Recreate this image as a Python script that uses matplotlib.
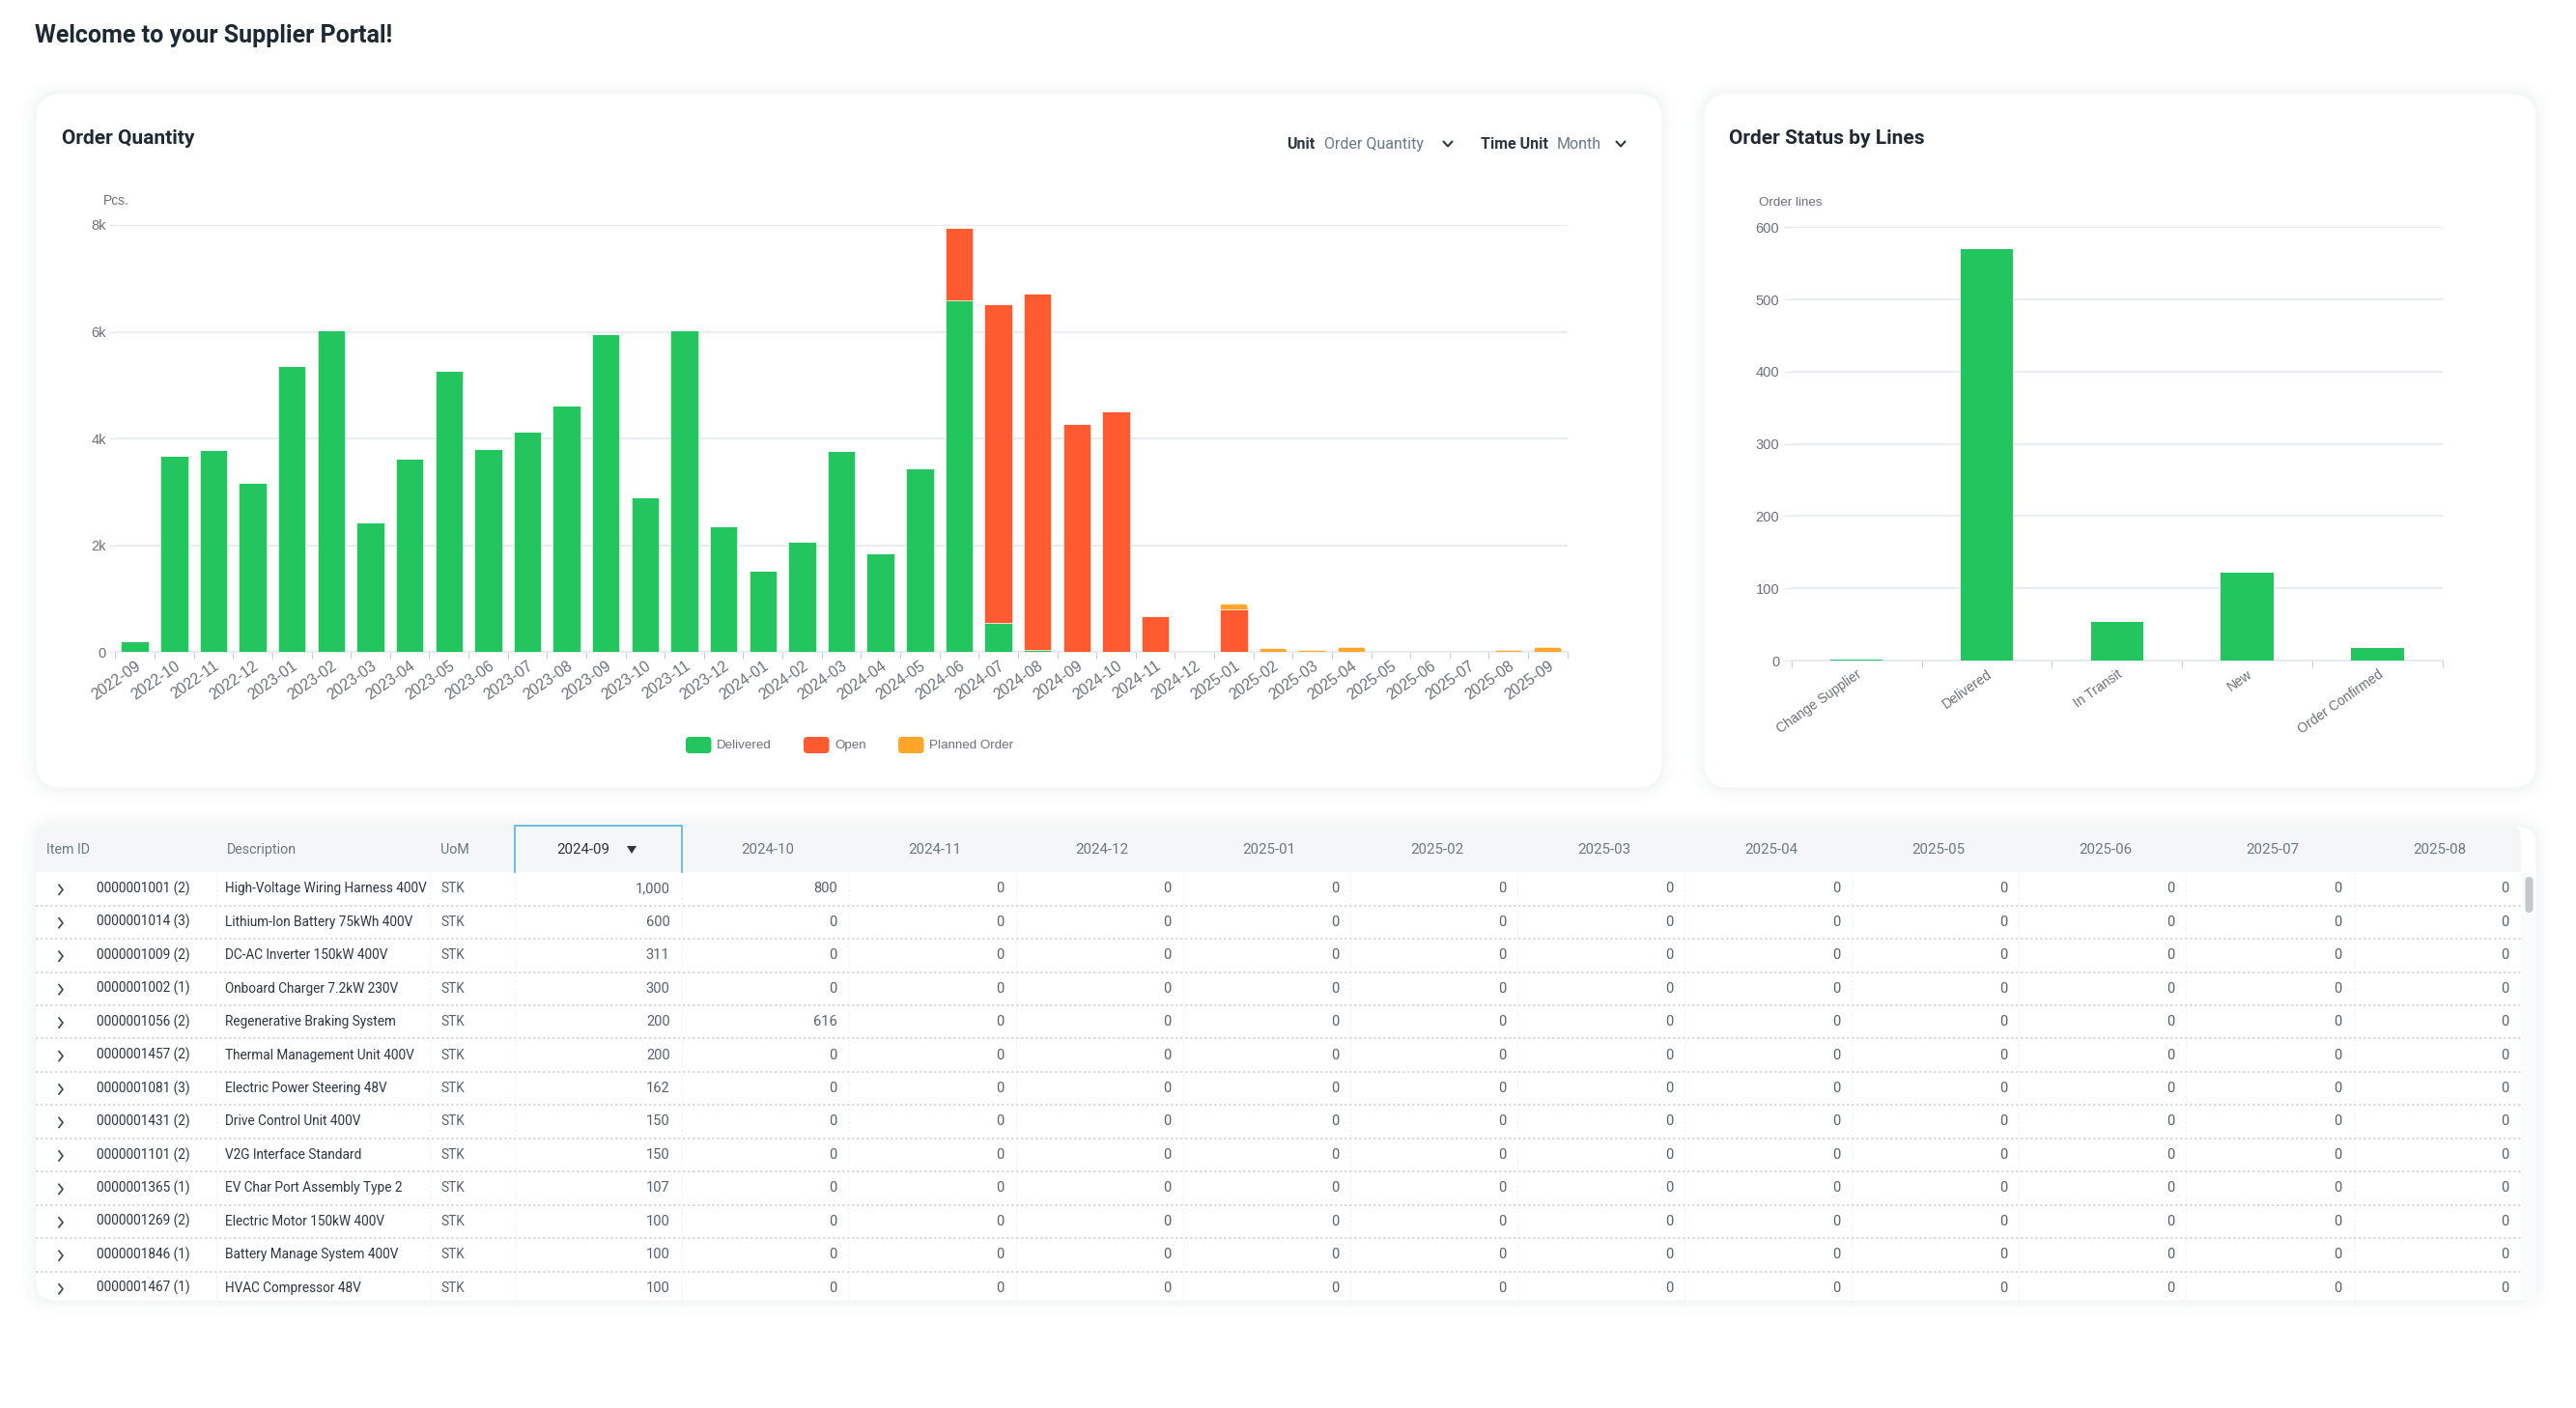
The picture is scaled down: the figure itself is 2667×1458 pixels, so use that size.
"""
plot.py
-------
Supplier portal dashboard: two bar chart cards above the order table.
"""

import matplotlib
matplotlib.use("Agg")
import matplotlib.pyplot as plt
import numpy as np
from matplotlib.lines import Line2D
from matplotlib.patches import FancyBboxPatch, Polygon, Rectangle

# ── data ──────────────────────────────────────────────────────────────────────
MONTHS = [
    "2022-09", "2022-10", "2022-11", "2022-12", "2023-01", "2023-02", "2023-03",
    "2023-04", "2023-05", "2023-06", "2023-07", "2023-08", "2023-09", "2023-10",
    "2023-11", "2023-12", "2024-01", "2024-02", "2024-03", "2024-04", "2024-05",
    "2024-06", "2024-07", "2024-08", "2024-09", "2024-10", "2024-11", "2024-12",
    "2025-01", "2025-02", "2025-03", "2025-04", "2025-05", "2025-06", "2025-07",
    "2025-08", "2025-09",
]
DELIVERED = [200, 3670, 3790, 3170, 5360, 6020, 2420, 3620, 5270, 3800, 4130, 4620,
             5960, 2900, 6020, 2350, 1520, 2070, 3760, 1850, 3430, 6590, 550, 40,
             0, 0, 0, 0, 0, 0, 0, 0, 0, 0, 0, 0, 0]
OPEN = [0, 0, 0, 0, 0, 0, 0, 0, 0, 0, 0, 0, 0, 0, 0, 0, 0, 0, 0, 0, 0,
        1350, 5970, 6670, 4270, 4500, 670, 0, 790, 0, 0, 0, 0, 0, 0, 0, 0]
PLANNED = [0, 0, 0, 0, 0, 0, 0, 0, 0, 0, 0, 0, 0, 0, 0, 0, 0, 0, 0, 0, 0,
           0, 0, 0, 0, 0, 0, 0, 110, 65, 40, 90, 0, 0, 0, 40, 90]
QTY_TICKS = [0, 2000, 4000, 6000, 8000]
QTY_TICK_LABELS = ["0", "2k", "4k", "6k", "8k"]

STATUSES = ["Change Supplier", "Delivered", "In Transit", "New", "Order Confirmed"]
STATUS_LINES = [1.5, 570, 54, 122, 18]
LINE_TICKS = [0, 100, 200, 300, 400, 500, 600]

ITEM_IDS = [
    "0000001001 (2)", "0000001014 (3)", "0000001009 (2)", "0000001002 (1)",
    "0000001056 (2)", "0000001457 (2)", "0000001081 (3)", "0000001431 (2)",
    "0000001101 (2)", "0000001365 (1)", "0000001269 (2)", "0000001846 (1)",
    "0000001467 (1)",
]
DESCRIPTIONS = [
    "High-Voltage Wiring Harness 400V", "Lithium-Ion Battery 75kWh 400V",
    "DC-AC Inverter 150kW 400V", "Onboard Charger 7.2kW 230V",
    "Regenerative Braking System", "Thermal Management Unit 400V",
    "Electric Power Steering 48V", "Drive Control Unit 400V",
    "V2G Interface Standard", "EV Char Port Assembly Type 2",
    "Electric Motor 150kW 400V", "Battery Manage System 400V",
    "HVAC Compressor 48V",
]
QTY_2024_09 = ["1,000", "600", "311", "300", "200", "200", "162", "150", "150",
               "107", "100", "100", "100"]
QTY_2024_10 = ["800", "0", "0", "0", "616", "0", "0", "0", "0", "0", "0", "0", "0"]
LATER_MONTHS = ["2024-11", "2024-12", "2025-01", "2025-02", "2025-03", "2025-04",
                "2025-05", "2025-06", "2025-07", "2025-08"]
LATER_QTY = "0"   # every later month reads 0 in every row

# ── style ─────────────────────────────────────────────────────────────────────
W, H = 2667, 1458
DPI = 100
GREEN, RED, ORANGE = "#22C55E", "#FF5A30", "#FFA62B"
GRID = "#E6E9F2"
AXIS_TEXT = "#6E7079"
TITLE_COL = "#1F2933"
SLATE = "#6B7885"
BODY = "#2E3640"
NUM = "#59626C"
CHART_FONT = "Liberation Sans"
UI_FONT = "Roboto"


def card(bg, x0, y0, x1, y1, radius=26):
    """Rounded white card with a very soft shadow, in pixel coordinates."""
    for grow, alpha in [(14, 0.10), (9, 0.14), (5, 0.18), (2, 0.25)]:
        bg.add_patch(FancyBboxPatch((x0 - grow, y0 - grow), x1 - x0 + 2 * grow,
                                    y1 - y0 + 2 * grow,
                                    boxstyle=f"round,pad=0,rounding_size={radius + grow}",
                                    fc="#EEF1F5", ec="none", alpha=alpha, zorder=1))
    bg.add_patch(FancyBboxPatch((x0, y0), x1 - x0, y1 - y0,
                                boxstyle=f"round,pad=0,rounding_size={radius}",
                                fc="white", ec="#F6F7F9", lw=1, zorder=2))


def chart_axes(fig, x0, y_top, x1, y_base, cat_size=11.3):
    ax = fig.add_axes([x0 / W, 1 - y_base / H, (x1 - x0) / W, (y_base - y_top) / H],
                      facecolor="none", zorder=5)
    ax.spines[["top", "right", "left"]].set_visible(False)
    ax.spines["bottom"].set_color(GRID)
    ax.spines["bottom"].set_linewidth(1.2)
    ax.yaxis.grid(True, color=GRID, linewidth=1.2)
    ax.set_axisbelow(True)
    ax.tick_params(axis="y", length=4, width=1, color=GRID, labelsize=10.5,
                   labelcolor=AXIS_TEXT, pad=3)
    ax.tick_params(axis="x", which="major", length=5, width=0.8, color="#C9CCD3",
                   labelbottom=False)
    ax.tick_params(axis="x", which="minor", length=0, pad=5, labelsize=cat_size,
                   labelcolor=AXIS_TEXT)
    return ax


def category_ticks(ax, labels):
    """Ticks on the category edges, labels in the middle of each category."""
    n = len(labels)
    ax.set_xlim(0, n)
    ax.set_xticks(np.arange(n + 1))
    ax.set_xticks(np.arange(n) + 0.5, labels, minor=True)
    for t in ax.get_xticklabels(minor=True):
        t.set(rotation=35, ha="right", va="top", rotation_mode="anchor",
              family=CHART_FONT)
    for t in ax.get_yticklabels():
        t.set_family(CHART_FONT)


def round_tops(ax, bars, radius=0.1):
    """Clip bars to a box with rounded upper corners (radius in x units)."""
    x0, x1 = ax.get_xlim()
    y0, y1 = ax.get_ylim()
    box = ax.get_window_extent()
    aspect = ((y1 - y0) / box.height) / ((x1 - x0) / box.width)
    for b in bars:
        if b.get_height() <= 0:
            continue
        extra = 400 * (y1 - y0) / 8000
        clip = FancyBboxPatch((b.get_x(), b.get_y() - extra), b.get_width(),
                              b.get_height() + extra,
                              boxstyle=f"round,pad=0,rounding_size={radius}",
                              mutation_aspect=aspect, transform=ax.transData)
        b.set_clip_path(clip)


def draw_order_quantity(fig):
    ax = chart_axes(fig, 119.4, 233, 1622.7, 675)
    x = np.arange(len(MONTHS)) + 0.5
    delivered, open_q, planned = map(np.array, (DELIVERED, OPEN, PLANNED))
    common = dict(width=0.7, edgecolor="#FFFFFF", linewidth=0.4, zorder=3)
    ax.bar(x, delivered, color=GREEN, **common)
    ax.bar(x, open_q, bottom=delivered, color=RED, **common)
    top = ax.bar(x, planned, bottom=delivered + open_q, color=ORANGE, **common)
    ax.set_ylim(0, 8000)
    ax.set_yticks(QTY_TICKS, QTY_TICK_LABELS)
    category_ticks(ax, MONTHS)
    round_tops(ax, top)


def draw_order_status(fig):
    ax = chart_axes(fig, 1854.7, 235.4, 2529, 684, cat_size=10)
    x = np.arange(len(STATUSES)) + 0.5
    ax.bar(x, STATUS_LINES, color=GREEN, width=0.405, edgecolor="none", zorder=3)
    ax.set_ylim(0, 600)
    ax.set_yticks(LINE_TICKS)
    ax.tick_params(axis="y", length=6)
    category_ticks(ax, STATUSES)


def chevron_down(bg, cx, cy, color="#2E3640"):
    bg.plot([cx - 4.5, cx, cx + 4.5], [cy - 2.5, cy + 2.5, cy - 2.5], color=color,
            lw=1.5, solid_capstyle="round", zorder=6)


def draw_header(bg):
    bg.text(36, 37, "Welcome to your Supplier Portal!", fontsize=18, fontweight="bold",
            family=UI_FONT, color=TITLE_COL, va="center", zorder=6)
    bg.text(64, 143, "Order Quantity", fontsize=15, fontweight="bold", family=UI_FONT,
            color=TITLE_COL, va="center", zorder=6)
    bg.text(1790, 143, "Order Status by Lines", fontsize=15, fontweight="bold",
            family=UI_FONT, color=TITLE_COL, va="center", zorder=6)
    for x, s, col, weight in [(1332, "Unit", BODY, "bold"),
                              (1371, "Order Quantity", SLATE, "normal"),
                              (1533, "Time Unit", BODY, "bold"),
                              (1612, "Month", SLATE, "normal")]:
        bg.text(x, 149, s, fontsize=11.5, fontweight=weight, family=UI_FONT, color=col,
                va="center", zorder=6)
    chevron_down(bg, 1499, 149)
    chevron_down(bg, 1678, 149)
    bg.text(107, 208, "Pcs.", fontsize=10, family=CHART_FONT, color=AXIS_TEXT,
            va="center", zorder=6)
    bg.text(1821, 209.5, "Order lines", fontsize=9.6, family=CHART_FONT, color=AXIS_TEXT,
            va="center", zorder=6)


def draw_legend(bg):
    for x, col, s in [(710, GREEN, "Delivered"), (832, RED, "Open"),
                      (930, ORANGE, "Planned Order")]:
        bg.add_patch(FancyBboxPatch((x, 763), 26.5, 17,
                                    boxstyle="round,pad=0,rounding_size=4",
                                    fc=col, ec="none", zorder=6))
        bg.text(x + 32, 772, s, fontsize=9.6, family=CHART_FONT, color=AXIS_TEXT,
                va="center", zorder=6)


def draw_table(bg):
    x0, y0, x1, y1 = 37, 855, 2626, 1347
    head_bottom, row_h = 903, 34.45
    col_w = 173.1
    first_right = 705.5    # right edge of the selected month column
    body_size = 9.8
    num_size = 10.5
    head_size = 10.8

    card(bg, x0, y0, x1, y1, radius=20)
    # header band, square on the right where the scrollbar gutter starts
    bg.add_patch(FancyBboxPatch((x0, y0), 2610 - x0, head_bottom - y0,
                                boxstyle="round,pad=0,rounding_size=12",
                                fc="#F4F6F8", ec="none", zorder=3))
    bg.add_patch(Rectangle((x0, y0 + 20), 2610 - x0, head_bottom - y0 - 20,
                           fc="#F4F6F8", ec="none", zorder=3))
    bg.add_patch(Rectangle((2610, y0 + 48), 16, y1 - y0 - 48, fc="#FAFBFC", ec="none",
                           zorder=3))
    bg.add_patch(FancyBboxPatch((2614.5, 908), 8, 37,
                                boxstyle="round,pad=0,rounding_size=4",
                                fc="#C4C7CB", ec="none", zorder=4))

    # selected column header
    bg.add_line(Line2D([533, 533, 705.5, 705.5], [head_bottom, y0, y0, head_bottom],
                       color="#5DB7E2", lw=1.3, zorder=5))
    bg.add_patch(Polygon([(649, 876), (659, 876), (654, 884)], fc="#2E3640", ec="none",
                         zorder=6))

    # header labels
    for x, s in [(48, "Item ID"), (235, "Description"), (456, "UoM")]:
        bg.text(x, 880, s, fontsize=10.3, family=UI_FONT, color=SLATE, va="center",
                zorder=6)
    bg.text(604, 880, "2024-09", fontsize=head_size, family=UI_FONT, color=BODY,
            va="center", ha="center", zorder=6)
    bg.text(795, 880, "2024-10", fontsize=head_size, family=UI_FONT, color=SLATE,
            va="center", ha="center", zorder=6)
    for k, month in enumerate(LATER_MONTHS):
        bg.text(795 + col_w * (k + 1), 880, month, fontsize=head_size, family=UI_FONT,
                color=SLATE, va="center", ha="center", zorder=6)

    # faint column separators
    edges = [224, 445, 533] + [first_right + col_w * k for k in range(11)]
    for ex in edges:
        bg.plot([ex, ex], [head_bottom, y1], color="#F1F2F4", lw=0.8, ls=(0, (2, 2)),
                zorder=3)

    for i, (item, desc, q09, q10) in enumerate(zip(ITEM_IDS, DESCRIPTIONS, QTY_2024_09,
                                                   QTY_2024_10)):
        cy = 920.3 + row_h * i
        if i < len(ITEM_IDS) - 1:
            bg.plot([x0, 2610], [cy + 17.3, cy + 17.3], color="#D3D6DA", lw=1.2,
                    ls=(0, (1.5, 1.5)), zorder=4)
        bg.plot([61, 65, 61], [cy - 4, cy + 1, cy + 6], color="#3D4650", lw=1.2, zorder=6)
        bg.text(100, cy, item, fontsize=body_size, family=UI_FONT, color=BODY, va="center",
                zorder=6)
        bg.text(233, cy, desc, fontsize=body_size, family=UI_FONT, color=BODY, va="center",
                zorder=6)
        bg.text(456, cy, "STK", fontsize=body_size, family=UI_FONT, color=NUM, va="center",
                zorder=6)
        bg.text(693.5, cy, q09, fontsize=num_size, family=UI_FONT, color=NUM, va="center",
                ha="right", zorder=6)
        bg.text(693.5 + col_w, cy, q10, fontsize=num_size, family=UI_FONT, color=NUM,
                va="center", ha="right", zorder=6)
        for k in range(len(LATER_MONTHS)):
            bg.text(693.5 + col_w * (k + 2), cy, LATER_QTY, fontsize=num_size,
                    family=UI_FONT, color=NUM, va="center", ha="right", zorder=6)


def main():
    fig = plt.figure(figsize=(W / DPI, H / DPI), dpi=DPI, facecolor="white")
    bg = fig.add_axes([0, 0, 1, 1], zorder=1)
    bg.set_xlim(0, W)
    bg.set_ylim(H, 0)
    bg.axis("off")

    card(bg, 37, 97, 1721, 816)
    card(bg, 1764, 97, 2626, 816)
    draw_header(bg)
    draw_legend(bg)
    draw_table(bg)

    draw_order_quantity(fig)
    draw_order_status(fig)

    fig.savefig("out.png", dpi=DPI)


if __name__ == "__main__":
    main()
